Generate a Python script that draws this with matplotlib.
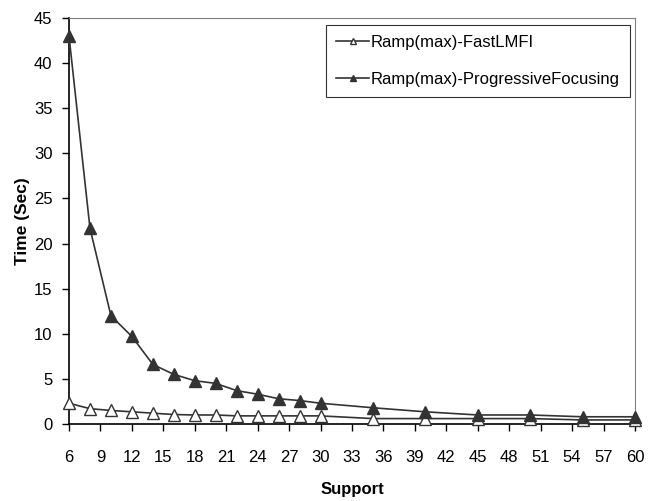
import matplotlib
matplotlib.use("Agg")
import matplotlib.pyplot as plt
import matplotlib.ticker as ticker

plt.rcParams['font.family'] = ['Liberation Sans', 'DejaVu Sans']

support = [6, 8, 10, 12, 14, 16, 18, 20, 22, 24, 26, 28, 30, 35, 40, 45, 50, 55, 60]
fast_lmfi = [2.3, 1.7, 1.5, 1.35, 1.2, 1.05, 1.0, 1.0, 0.9, 0.9, 0.9, 0.9, 0.9,
             0.6, 0.6, 0.6, 0.6, 0.45, 0.45]
progressive = [43.0, 21.7, 12.0, 9.7, 6.6, 5.5, 4.8, 4.5, 3.7, 3.3, 2.8, 2.6, 2.3,
               1.8, 1.35, 1.0, 1.0, 0.8, 0.8]
x_ticks = list(range(6, 61, 3))
y_ticks = list(range(0, 46, 5))

fig = plt.figure(figsize=(6.56, 5.01), dpi=100)
ax = fig.add_axes([69 / 656, 77 / 501, 566 / 656, 406 / 501])

ax.plot(support, fast_lmfi, color='#333333', lw=1.2, marker='^', ms=8,
        mfc='white', mec='#333333', mew=1.0, label='Ramp(max)-FastLMFI',
        clip_on=False, zorder=3)
ax.plot(support, progressive, color='#333333', lw=1.2, marker='^', ms=8,
        mfc='#333333', mec='#333333', label='Ramp(max)-ProgressiveFocusing',
        clip_on=False, zorder=3)

ax.set_xlim(6, 60)
ax.set_ylim(0, 45)
ax.set_xticks(x_ticks)
ax.set_yticks(y_ticks)
ax.tick_params(labelsize=12, direction='out', length=5, width=1)
ax.tick_params(axis='x', pad=14)
ax.tick_params(axis='y', pad=7)
ax.xaxis.set_major_formatter(ticker.FormatStrFormatter('%d'))

for side in ['top', 'right']:
    ax.spines[side].set_color('#808080')
for side in ['left', 'bottom']:
    ax.spines[side].set_color('black')
    ax.spines[side].set_linewidth(1.2)

ax.set_xlabel('Support', fontsize=12, fontweight='bold', labelpad=12)
ax.set_ylabel('Time (Sec)', fontsize=12.5, fontweight='bold', labelpad=3)

leg = ax.legend(loc='upper right', bbox_to_anchor=(0.991, 0.983), fontsize=12,
                frameon=True, fancybox=False, handlelength=2.0, handletextpad=0.1,
                borderpad=0.6, borderaxespad=0.0, labelspacing=1.3,
                markerscale=0.6)
leg.get_frame().set_edgecolor('black')
leg.get_frame().set_linewidth(0.8)

plt.savefig('out.png', dpi=100)
